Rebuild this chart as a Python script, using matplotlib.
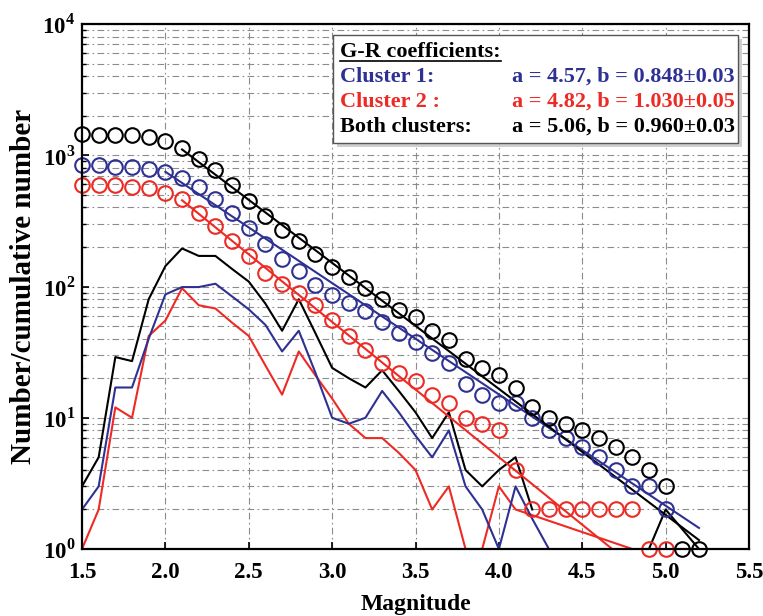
import sys # system exit

import numpy as np
import matplotlib
matplotlib.use("Agg") # no display here
from matplotlib import pyplot as plt
from matplotlib.patches import Rectangle

# magnitude bins
magnitude = [1.5, 1.6, 1.7, 1.8, 1.9, 2.0, 2.1, 2.2, 2.3, 2.4, 2.5, 2.6, 2.7, 2.8, 2.9,
             3.0, 3.1, 3.2, 3.3, 3.4, 3.5, 3.6, 3.7, 3.8, 3.9, 4.0, 4.1, 4.2, 4.3, 4.4,
             4.5, 4.6, 4.7, 4.8, 4.9, 5.0, 5.1, 5.2]

# cumulative numbers (circles)
cumBoth = [1450, 1420, 1420, 1420, 1380, 1285, 1130, 932, 773, 593, 448, 342, 271, 224, 176,
           142, 118, 97, 80, 66, 59, 46, 39, 28, 24, 21, 17, 12, 10, 9,
           8, 7, 6, 5, 4, 3, 1, 1]
cumCluster1 = [844, 844, 820, 820, 792, 751, 676, 577, 461, 363, 277, 212, 163, 131, 103,
               86, 75, 65, 54, 44, 38, 31, 26, 18, 15, 13, 13, 10, 8, 7,
               6, 5, 4, 3, 3, 2]
cumCluster2 = [593, 593, 593, 573, 560, 519, 461, 363, 291, 223, 171, 127, 105, 90, 72,
               56, 42, 33, 26, 22, 19, 15, 13, 10, 9, 8, 4, 2, 2, 2,
               2, 2, 2, 2, 1, 1]

# non-cumulative numbers (thin lines), nan = empty bin
histBothMag = magnitude[:29] + [4.9, 5.0, 5.2]
histBoth = [3, 5, 29, 27, 80, 143, 195, 171, 171, 136, 109, 74, 46, 80, 44,
            24, 20, 17, 23, 16, 11, 7, 11, 4, 3, 4, 5, 2, np.nan, 1, 2, 1]
histCluster1Mag = magnitude[:29]
histCluster1 = [2, 3, 17, 17, 40, 87, 99, 99, 105, 84, 67, 51, 32, 46, 22,
                10, 9, 10, 16, 11, 7.3, 5, 8, 3, 2, 1, 3, 1.7, 1]
histCluster2Mag = magnitude[:27] + [4.8]
histCluster2 = [1, 2, 12, 10, 42, 55, 97, 72, 68, 53, 42, 25, 15, 32, 21,
                14, 9, 7, 7, 5.4, 4, 2, 3, 1, 1, 3, 2, 1]

# G-R fits: log10 N = a - b M
fitNames = ["Cluster 1:", "Cluster 2 :", "Both clusters:"]
fitA = [4.57, 4.82, 5.06]
fitB = [0.848, 1.030, 0.960]
fitErr = ["0.03", "0.05", "0.03"]
fitStart = [2.0, 2.1, 2.1]
fitEnd = [5.2, 4.7, 5.2]

blue = "#2E3192"
red = "#EE2A24"
colors = [blue, red, "black"]


def __main__():
    plt.rcParams["font.family"] = ["Liberation Serif", "DejaVu Serif"]
    plt.rcParams["font.weight"] = "bold"
    plt.rcParams["axes.labelweight"] = "bold"
    plt.rcParams["mathtext.fontset"] = "custom"
    plt.rcParams["mathtext.rm"] = "Liberation Serif:bold"
    plt.rcParams["mathtext.bf"] = "Liberation Serif:bold"

    fig = plt.figure(figsize=(7.63, 6.16), dpi=100)
    ax = fig.add_axes([82 / 763, 67 / 616, 667 / 763, 525 / 616])

    # thin histogram lines
    ax.plot(histCluster2Mag, histCluster2, color=red, lw=1.5)
    ax.plot(histCluster1Mag, histCluster1, color=blue, lw=1.5)
    ax.plot(histBothMag, histBoth, color="black", lw=1.5)

    # fit lines
    for a, b, m0, m1, c in zip(fitA, fitB, fitStart, fitEnd, colors):
        m = np.array([m0, m1])
        ax.plot(m, 10 ** (a - b * m), color=c, lw=1.5)

    # cumulative circles
    ax.plot(magnitude[:len(cumCluster2)], cumCluster2, "o", mfc="none", mec=red, ms=10.5, mew=1.5, clip_on=False)
    ax.plot(magnitude[:len(cumCluster1)], cumCluster1, "o", mfc="none", mec=blue, ms=10.5, mew=1.5, clip_on=False)
    ax.plot(magnitude, cumBoth, "o", mfc="none", mec="black", ms=10.5, mew=1.5, clip_on=False)

    ax.set_yscale("log")
    ax.set_xlim(1.5, 5.5)
    ax.set_ylim(1, 1e4)
    ax.set_xticks([1.5, 2.0, 2.5, 3.0, 3.5, 4.0, 4.5, 5.0, 5.5])
    ax.set_xticklabels(["%.1f" % t for t in ax.get_xticks()])
    ax.set_yticks([1, 10, 100, 1000, 10000])
    ax.set_yticklabels([r"$10^{%d}$" % k for k in range(5)])
    ax.tick_params(axis="both", which="major", labelsize=16.5, direction="in", length=5, width=1.2)
    ax.tick_params(axis="x", pad=9)
    ax.tick_params(axis="y", pad=5)
    ax.tick_params(axis="y", which="minor", direction="in", length=3, width=1, labelleft=False)

    # MATLAB-like dash-dot grid
    ax.grid(True, which="major", axis="x", color="#8c8c8c", lw=0.8, ls=(0, (6, 3, 1.5, 3)))
    ax.grid(True, which="both", axis="y", color="#8c8c8c", lw=0.8, ls=(0, (6, 3, 1.5, 3)))
    ax.set_axisbelow(True)
    for s in ax.spines.values():
        s.set_linewidth(1.6)

    ax.set_xlabel("Magnitude", fontsize=17, labelpad=8)
    ax.set_ylabel("Number/cumulative number", fontsize=21, labelpad=4)

    # coefficient box with shadow
    bx0, by0, bx1, by1 = 333, 35, 738, 143
    fig.patches.append(Rectangle((bx0 / 763 + 0.005, 1 - by1 / 616 - 0.007), (bx1 - bx0) / 763, (by1 - by0) / 616,
                                 transform=fig.transFigure, facecolor="#b0b0b0", edgecolor="none", alpha=0.6, zorder=5))
    fig.patches.append(Rectangle((bx0 / 763, 1 - by1 / 616), (bx1 - bx0) / 763, (by1 - by0) / 616,
                                 transform=fig.transFigure, facecolor="white", edgecolor="#555555", lw=1.0, zorder=6))
    head = fig.text(340 / 763, 1 - 57 / 616, "G-R coefficients:", fontsize=16, color="black", va="baseline", zorder=7)
    for i, (name, a, b, e, c) in enumerate(zip(fitNames, fitA, fitB, fitErr, colors)):
        yb = 1 - (82 + 25 * i) / 616
        fig.text(340 / 763, yb, name, fontsize=16, color=c, va="baseline", zorder=7)
        fig.text(735 / 763, yb, "a = %.2f, b = %.3f\u00b1%s" % (a, b, e), fontsize=16, color=c,
                 va="baseline", ha="right", zorder=7)

    # underline the heading
    fig.canvas.draw()
    bb = head.get_window_extent().transformed(fig.transFigure.inverted())
    fig.add_artist(plt.Line2D([bb.x0, bb.x1], [1 - 61 / 616, 1 - 61 / 616], color="black", lw=1.2, zorder=7))

    fig.savefig("out.png", dpi=100)


if __name__ == "__main__":
    sys.exit(__main__())
